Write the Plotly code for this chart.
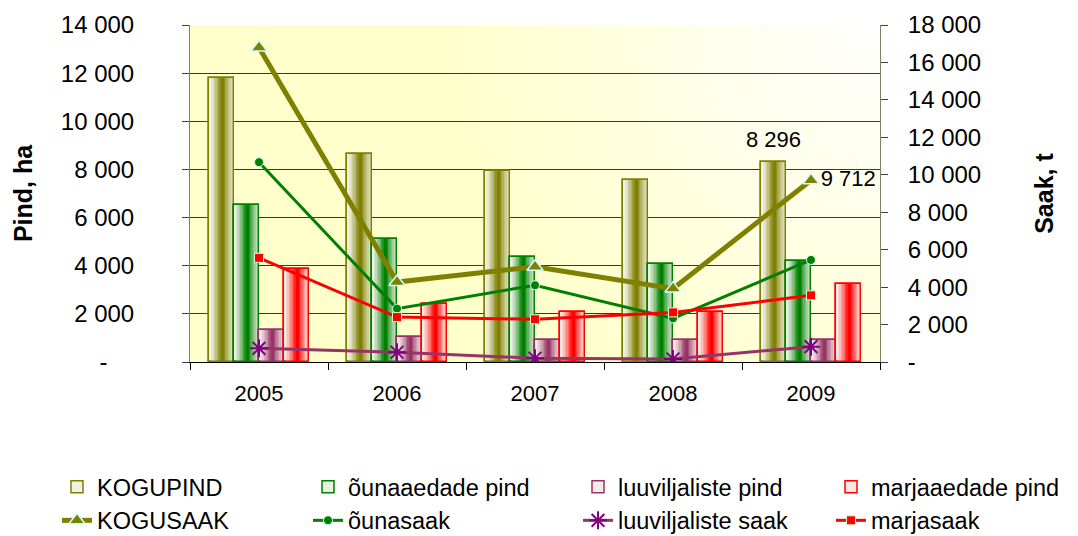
import base64
import plotly.graph_objects as go

# ---------------- data ----------------
years = ["2005", "2006", "2007", "2008", "2009"]

kogupind = [11800, 8630, 7920, 7580, 8296]
ounaaedade_pind = [6520, 5120, 4360, 4070, 4210]
luuviljaliste_pind = [1330, 1050, 910, 910, 910]
marjaaedade_pind = [3860, 2410, 2090, 2090, 3230]

kogusaak = [16800, 4270, 5090, 3920, 9712]
ounasaak = [10670, 2850, 4100, 2330, 5450]
luuviljaliste_saak = [730, 520, 200, 160, 820]
marjasaak = [5560, 2400, 2280, 2650, 3560]

left_ticks = [0, 2000, 4000, 6000, 8000, 10000, 12000, 14000]
right_ticks = [0, 2000, 4000, 6000, 8000, 10000, 12000, 14000, 16000, 18000]


def fmt(v):
    return f"{v:,}".replace(",", " ")


FONT = "Liberation Sans, Arial, sans-serif"

bar_series = [
    ("KOGUPIND", kogupind, (128, 128, 0)),
    ("õunaaedade pind", ounaaedade_pind, (0, 128, 0)),
    ("luuviljaliste pind", luuviljaliste_pind, (153, 51, 102)),
    ("marjaaedade pind", marjaaedade_pind, (255, 0, 0)),
]
legend_ids = ["legend", "legend2", "legend3", "legend4"]

fig = go.Figure()

BW = 0.181          # bar width in category units
GROUP_START = -0.3625
K = 9               # gradient layers


def blend(c, t):
    base = (248, 248, 240)
    return "rgb(%d,%d,%d)" % tuple(round(base[i] + (c[i] - base[i]) * t) for i in range(3))


def rgb(c):
    return "rgb(%d,%d,%d)" % c


for si, (name, vals, col) in enumerate(bar_series):
    left = GROUP_START + si * BW
    center = left + BW * 0.53
    for k in range(K):
        frac = 1 - k / K
        w = BW * frac
        off = max(left, min(center - w / 2, left + BW - w))
        t = 0.06 + 0.94 * (k / (K - 1)) ** 1.2
        fig.add_trace(go.Bar(
            x=years, y=vals, name=name,
            width=w, offset=off,
            marker=dict(color=blend(col, t),
                        line=dict(color=rgb(col), width=1.5 if k == 0 else 0)),
            showlegend=(k == 0), legend=legend_ids[si],
            hoverinfo="skip" if k else None,
        ))
    fig.add_trace(go.Bar(
        x=years, y=vals, name=name, width=BW, offset=left,
        marker=dict(color="rgba(0,0,0,0)", line=dict(color=rgb(col), width=1.5)),
        showlegend=False, legend=legend_ids[si], hoverinfo="skip",
    ))

# lines on the right axis
fig.add_trace(go.Scatter(
    x=years, y=kogusaak, name="KOGUSAAK", yaxis="y2", mode="lines+markers+text",
    line=dict(color="#808000", width=5), legend="legend",
    marker=dict(symbol="triangle-up", size=14, color="#808000",
                line=dict(color="#CCFFFF", width=1.5)),
    text=["", "", "", "", fmt(kogusaak[-1])], textposition="middle right",
    textfont=dict(size=22, color="black", family=FONT),
))
fig.add_trace(go.Scatter(
    x=years, y=ounasaak, name="õunasaak", yaxis="y2", mode="lines+markers",
    line=dict(color="#008000", width=3), legend="legend2",
    marker=dict(symbol="circle", size=9, color="#008000",
                line=dict(color="#CCFFFF", width=1)),
))
fig.add_trace(go.Scatter(
    x=years, y=luuviljaliste_saak, name="luuviljaliste saak", yaxis="y2", mode="lines+markers",
    line=dict(color="#993366", width=3), legend="legend3",
    marker=dict(symbol="asterisk-open", size=15, color="#800080",
                line=dict(color="#800080", width=2)),
))
fig.add_trace(go.Scatter(
    x=years, y=marjasaak, name="marjasaak", yaxis="y2", mode="lines+markers",
    line=dict(color="#FF0000", width=3), legend="legend4",
    marker=dict(symbol="square", size=9, color="#FF0000",
                line=dict(color="#CCFFCC", width=1)),
))

# background gradient (plot area)
svg = ('<svg xmlns="http://www.w3.org/2000/svg" width="690" height="337" viewBox="0 0 690 337" '
       'preserveAspectRatio="none"><defs><radialGradient id="g" gradientUnits="userSpaceOnUse" '
       'cx="690" cy="0" r="430"><stop offset="0" stop-color="#FFFFFF"/>'
       '<stop offset="1" stop-color="#FFFFCC"/></radialGradient></defs>'
       '<rect width="690" height="337" fill="url(#g)"/></svg>')
src = "data:image/svg+xml;base64," + base64.b64encode(svg.encode()).decode()

i_last = len(years) - 1
fig.add_annotation(
    x=i_last + GROUP_START + BW / 2, y=kogupind[i_last], xref="x", yref="y",
    text=fmt(kogupind[i_last]), showarrow=False, yanchor="bottom", yshift=8,
    font=dict(size=22, color="black", family=FONT),
)

left_text = [fmt(v) if v else "-\u00a0\u00a0\u00a0\u00a0" for v in left_ticks]
right_text = [fmt(v) if v else "-" for v in right_ticks]

PLOT_L, PLOT_W, PLOT_B, PLOT_H = 190, 690, 362, 337


def leg(text_x_px, top_px=465):
    return dict(orientation="v", x=(text_x_px - 40 - PLOT_L) / PLOT_W, xanchor="left",
                y=(PLOT_B - top_px) / PLOT_H, yanchor="top", traceorder="normal",
                font=dict(size=23.5, family=FONT), itemwidth=30, tracegroupgap=0,
                bgcolor="rgba(0,0,0,0)")


fig.update_layout(
    width=1078, height=536,
    margin=dict(l=190, r=198, t=25, b=174, autoexpand=False),
    paper_bgcolor="white", plot_bgcolor="rgba(0,0,0,0)",
    barmode="overlay", bargap=0,
    font=dict(family=FONT, size=24, color="black"),
    images=[dict(source=src, xref="paper", yref="paper", x=0, y=1, sizex=1, sizey=1,
                 sizing="stretch", layer="below")],
    xaxis=dict(type="category", range=[-0.5, 4.5], tickson="boundaries",
               ticks="outside", ticklen=7, tickcolor="black",
               showline=True, linecolor="black", linewidth=1,
               showgrid=False, tickfont=dict(size=22), ticklabelstandoff=12),
    yaxis=dict(range=[0, 14000], tickvals=left_ticks, ticktext=left_text,
               showgrid=True, gridcolor="#383838", gridwidth=1,
               showline=True, linecolor="#808060", linewidth=1,
               ticks="outside", ticklen=7, tickcolor="#404040",
               ticklabelstandoff=43, zeroline=False, tickfont=dict(size=24),
               title=dict(text="<b>Pind, ha</b>", font=dict(size=25), standoff=21)),
    yaxis2=dict(range=[0, 18000], tickvals=right_ticks, ticktext=right_text,
                overlaying="y", side="right", showgrid=False,
                showline=True, linecolor="#808060", linewidth=1,
                ticks="outside", ticklen=7, tickcolor="#404040",
                ticklabelstandoff=15, zeroline=False, tickfont=dict(size=24),
                title=dict(text="<b>Saak, t</b>", font=dict(size=25), standoff=55)),
    legend=leg(97),
    legend2=leg(348),
    legend3=leg(618),
    legend4=leg(871),
)

fig.write_html("out.html", config={"displayModeBar": False},
               post_script="document.body.style.margin='0';")
